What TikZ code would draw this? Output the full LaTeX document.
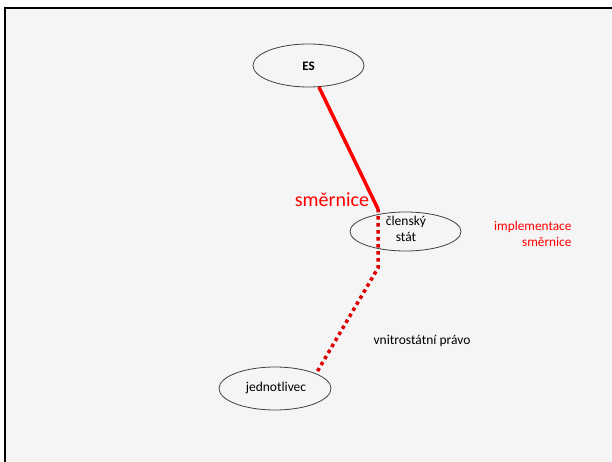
\documentclass[tikz,border=0pt]{standalone}
\usepackage{fontspec}
\setmainfont{Carlito}
\usetikzlibrary{shapes.geometric}
\definecolor{bg}{HTML}{F5F5F5}
\definecolor{dotred}{HTML}{DD0000}
\begin{document}
\begin{tikzpicture}[x=1pt,y=-1pt,
  oval/.style={draw=black!75,line width=0.8pt,ellipse,inner sep=0pt,fill=bg},
  lbl/.style={font=\fontsize{13.5}{16}\selectfont,text=black,align=center},
  redlbl/.style={text=red,align=right,font=\fontsize{13.3}{16}\selectfont},
  solidlink/.style={red,line width=3.5pt},
  dotlink/.style={dotred,line width=3.5pt,dash pattern=on 3.5pt off 3.5pt}]
\useasboundingbox (0,0) rectangle (612,462);
\fill[white] (0,0) rectangle (612,462);
\fill[bg] (5,8.5) rectangle (620,470);
\draw[black,line width=2pt] (5,475) -- (5,8.5) -- (620,8.5);
\node[oval,minimum width=111pt,minimum height=43pt] (es) at (308.5,65.5) {};
\node[lbl,font=\fontsize{13}{16}\selectfont\bfseries] (eslbl) at (308.5,66) {ES};
\node[oval,minimum width=111pt,minimum height=39pt] (cs) at (405.5,231.5) {};
\node[lbl] (cslbl) at (406,229) {členský\\stát};
\node[oval,minimum width=112pt,minimum height=43pt] (jed) at (275,388.5) {};
\node[lbl] (jedlbl) at (276,388) {jednotlivec};
\coordinate (j1) at (378,209);
\coordinate (j2) at (378,268);
\draw[solidlink] (es) -- (j1);
\draw[dotlink] (j1) -- (j2) -- (jed.20);
\node[text=red,font=\fontsize{20}{22}\selectfont] (smer) at (332,200) {směrnice};
\node[lbl] (vnp) at (422,341) {vnitrostátní právo};
\node[redlbl,anchor=east] (impl) at (575,234) {implementace\\směrnice};
\end{tikzpicture}
\end{document}
